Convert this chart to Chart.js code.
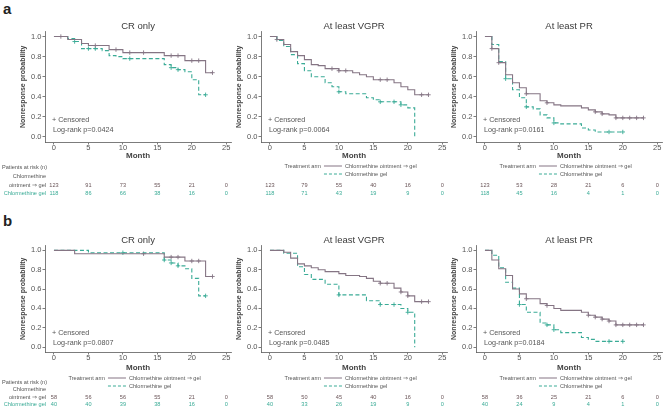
<!DOCTYPE html>
<html>
<head>
<meta charset="utf-8">
<script src="https://cdn.jsdelivr.net/npm/chart.js@4.4.1/dist/chart.umd.min.js"></script>
<style>
body{margin:0;background:#fff;width:668px;height:411px;overflow:hidden;position:relative;}
canvas{position:absolute;}
.tag{position:absolute;font:bold 15px "Liberation Sans",Arial,sans-serif;color:#222;}
</style>
</head>
<body>
<div class="tag" style="left:3px;top:0px">a</div>
<div class="tag" style="left:3px;top:212px">b</div>
<canvas id="aCR"></canvas><canvas id="aVGPR"></canvas><canvas id="aPR"></canvas>
<canvas id="bCR"></canvas><canvas id="bVGPR"></canvas><canvas id="bPR"></canvas>
<script>
// tick labels
const monthTicks = [0, 5, 10, 15, 20, 25];
const probTicks = [0, 0.2, 0.4, 0.6, 0.8, 1.0];

// ---- panel a (all patients) ----
const aCR_ointT = [0, 2, 4, 5, 8, 10, 16, 19, 22, 23];
const aCR_ointS = [1, 0.97, 0.93, 0.91, 0.87, 0.84, 0.81, 0.76, 0.64, 0.64];
const aCR_ointC = [1, 6, 9, 11, 13, 17, 18, 20, 21, 23];
const aCR_gelT = [0, 2, 3, 4, 7, 8, 9, 10, 16, 17, 18, 19, 20, 21, 22];
const aCR_gelS = [1, 0.98, 0.95, 0.88, 0.86, 0.81, 0.80, 0.78, 0.72, 0.69, 0.67, 0.65, 0.57, 0.42, 0.42];
const aCR_gelC = [3, 5, 6, 11, 17, 18, 22];

const aVGPR_ointT = [0, 1, 2, 3, 4, 5, 6, 7, 8, 10, 12, 13, 14, 15, 18, 19, 20, 21, 23];
const aVGPR_ointS = [1, 0.97, 0.92, 0.85, 0.81, 0.77, 0.72, 0.71, 0.68, 0.66, 0.64, 0.62, 0.60, 0.57, 0.54, 0.50, 0.47, 0.42, 0.42];
const aVGPR_ointC = [1, 9, 10, 11, 16, 17, 22, 23];
const aVGPR_gelT = [0, 1, 2, 3, 4, 5, 6, 8, 9, 10, 11, 14, 15, 16, 19, 20, 21];
const aVGPR_gelS = [1, 0.96, 0.90, 0.82, 0.73, 0.66, 0.60, 0.54, 0.50, 0.45, 0.43, 0.39, 0.37, 0.35, 0.32, 0.29, 0];
const aVGPR_gelC = [10, 16, 18, 19];

const aPR_ointT = [0, 1, 2, 3, 4, 5, 6, 8, 9, 10, 11, 14, 15, 16, 17, 18, 19, 23];
const aPR_ointS = [1, 0.88, 0.74, 0.62, 0.54, 0.49, 0.43, 0.36, 0.34, 0.32, 0.31, 0.29, 0.27, 0.25, 0.23, 0.22, 0.19, 0.19];
const aPR_ointC = [1, 2, 6, 9, 16, 17, 19, 20, 21, 22, 23];
const aPR_gelT = [0, 1, 2, 3, 4, 5, 6, 7, 8, 9, 10, 11, 14, 15, 16, 20];
const aPR_gelS = [1, 0.92, 0.75, 0.58, 0.47, 0.39, 0.30, 0.28, 0.22, 0.19, 0.14, 0.13, 0.09, 0.07, 0.05, 0.05];
const aPR_gelC = [3, 6, 10, 18, 20];

// ---- panel b ----
const bCR_ointT = [0, 3, 16, 19, 22, 23];
const bCR_ointS = [1, 0.965, 0.93, 0.89, 0.73, 0.73];
const bCR_ointC = [13, 17, 18, 20, 21, 23];
const bCR_gelT = [0, 5, 16, 17, 18, 19, 20, 21, 22];
const bCR_gelS = [1, 0.975, 0.90, 0.87, 0.84, 0.81, 0.71, 0.53, 0.53];
const bCR_gelC = [10, 16, 17, 18, 22];

const bVGPR_ointT = [0, 2, 3, 4, 5, 6, 7, 8, 10, 11, 13, 14, 15, 16, 18, 19, 20, 21, 23];
const bVGPR_ointS = [1, 0.98, 0.92, 0.86, 0.84, 0.82, 0.80, 0.78, 0.76, 0.74, 0.73, 0.71, 0.68, 0.66, 0.61, 0.57, 0.53, 0.47, 0.47];
const bVGPR_ointC = [16, 17, 19, 20, 22, 23];
const bVGPR_gelT = [0, 2, 4, 5, 6, 8, 10, 14, 16, 19, 20, 21];
const bVGPR_gelS = [1, 0.97, 0.83, 0.75, 0.70, 0.65, 0.54, 0.48, 0.44, 0.40, 0.36, 0];
const bVGPR_gelC = [10, 16, 18, 20];

const bPR_ointT = [0, 1, 2, 3, 4, 5, 6, 8, 9, 10, 11, 14, 15, 16, 17, 18, 19, 23];
const bPR_ointS = [1, 0.90, 0.81, 0.74, 0.60, 0.55, 0.50, 0.45, 0.43, 0.40, 0.38, 0.36, 0.33, 0.31, 0.29, 0.27, 0.23, 0.23];
const bPR_ointC = [6, 9, 15, 16, 17, 18, 19, 20, 21, 22, 23];
const bPR_gelT = [0, 1, 2, 3, 4, 5, 6, 8, 9, 10, 11, 14, 15, 16, 20];
const bPR_gelS = [1, 0.95, 0.82, 0.67, 0.61, 0.44, 0.36, 0.25, 0.23, 0.18, 0.15, 0.10, 0.08, 0.06, 0.06];
const bPR_gelC = [5, 9, 10, 18, 20];

// patients at risk at 0,5,...,25
const aCR_riskOint = [123, 91, 73, 55, 21, 0];
const aCR_riskGel = [118, 86, 66, 38, 16, 0];
const aVGPR_riskOint = [123, 79, 55, 40, 16, 0];
const aVGPR_riskGel = [118, 71, 43, 19, 9, 0];
const aPR_riskOint = [123, 53, 28, 21, 6, 0];
const aPR_riskGel = [118, 45, 16, 4, 1, 0];
const bCR_riskOint = [58, 56, 56, 55, 21, 0];
const bCR_riskGel = [40, 40, 39, 38, 16, 0];
const bVGPR_riskOint = [58, 50, 45, 40, 16, 0];
const bVGPR_riskGel = [40, 33, 26, 19, 9, 0];
const bPR_riskOint = [58, 36, 25, 21, 6, 0];
const bPR_riskGel = [40, 24, 9, 4, 1, 0];

const pValues = {aCR: '0.0424', aVGPR: '0.0064', aPR: '0.0161', bCR: '0.0807', bVGPR: '0.0485', bPR: '0.0184'};

const ointColor = '#857584';
const gelColor = '#3aab96';
const axisColor = '#5a5a5a';
const textColor = '#555';
const FONT = '"Liberation Sans", Arial, sans-serif';
const SMALL = 5.6; // risk table / legend text

Chart.defaults.font.family = FONT;
Chart.defaults.color = textColor;

function survAt(times, surv, t){
	var v = surv[0];
	for(var i=0; i<times.length; i++){
		if(times[i] <= t) v = surv[i];
	}
	return v;
}
function stepData(times, surv){
	return times.map(function(t, i){ return {x: t, y: surv[i]}; });
}
function censorData(times, surv, cens){
	return cens.map(function(t){ return {x: t, y: survAt(times, surv, t)}; });
}

// annotation, legend and risk table under each panel
const kmExtras = {
	id: 'kmExtras',
	afterDraw(chart, args, o){
		const ctx = chart.ctx, xs = chart.scales.x, ca = chart.chartArea;
		const x0 = xs.getPixelForValue(0);
		ctx.save();
		ctx.textBaseline = 'middle';
		ctx.font = '7.2px ' + FONT;
		ctx.fillStyle = textColor;
		ctx.textAlign = 'left';
		ctx.fillText('+ Censored', x0 - 2, ca.bottom + o.censY);
		ctx.fillText('Log-rank p=' + o.p, x0 - 1, ca.bottom + o.pY);

		ctx.font = SMALL + 'px ' + FONT;
		if(o.legend){
			const ly1 = ca.bottom + o.legY, ly2 = ly1 + 8;
			ctx.textAlign = 'right';
			ctx.fillText('Treatment arm', x0 + 51, ly1);
			ctx.textAlign = 'left';
			ctx.fillText('Chlormethine ointment \u21d2 gel', x0 + 75, ly1);
			ctx.fillText('Chlormethine gel', x0 + 75, ly2);
			ctx.lineWidth = 1;
			ctx.strokeStyle = ointColor;
			ctx.beginPath(); ctx.moveTo(x0 + 54, ly1); ctx.lineTo(x0 + 72, ly1); ctx.stroke();
			ctx.strokeStyle = gelColor;
			ctx.setLineDash([3, 2]);
			ctx.beginPath(); ctx.moveTo(x0 + 54, ly2); ctx.lineTo(x0 + 72, ly2); ctx.stroke();
			ctx.setLineDash([]);
		}
		const r1 = ca.bottom + o.riskY, r2 = r1 + o.riskGap;
		ctx.textAlign = 'center';
		monthTicks.forEach(function(m, i){
			const px = xs.getPixelForValue(m);
			ctx.fillStyle = '#6a5558';
			ctx.fillText(String(o.riskOint[i]), px, r1);
			ctx.fillStyle = gelColor;
			ctx.fillText(String(o.riskGel[i]), px, r2);
		});
		if(o.rowLabels){
			const xr = ca.left + 1;
			ctx.fillStyle = textColor;
			ctx.textAlign = 'left';
			ctx.fillText('Patients at risk (n)', 1, r1 - o.headGap);
			ctx.textAlign = 'right';
			ctx.fillText('Chlormethine', xr, r1 - o.subGap);
			ctx.fillText('ointment \u21d2 gel', xr, r1);
			ctx.fillStyle = gelColor;
			ctx.fillText('Chlormethine gel', xr, r2);
		}
		ctx.restore();
	}
};

function makeKm(id, title, rowInfo, col, curves, extras){
	const colLeft = [1, 217, 432];
	const cv = document.getElementById(id);
	cv.width = 235;
	cv.height = rowInfo.height;
	cv.style.left = colLeft[col] + 'px';
	cv.style.top = rowInfo.top + 'px';
	new Chart(cv, {
		type: 'line',
		data: {
			datasets: [
				{data: stepData(curves.ointT, curves.ointS), stepped: true, borderColor: ointColor, borderWidth: 1.1, pointRadius: 0, fill: false},
				{data: stepData(curves.gelT, curves.gelS), stepped: true, borderColor: gelColor, borderWidth: 1.1, borderDash: [4, 2.5], pointRadius: 0, fill: false},
				{data: censorData(curves.ointT, curves.ointS, curves.ointC), showLine: false, pointStyle: 'cross', pointRadius: 2.2, borderColor: ointColor, borderWidth: 0.9},
				{data: censorData(curves.gelT, curves.gelS, curves.gelC), showLine: false, pointStyle: 'cross', pointRadius: 2.2, borderColor: gelColor, borderWidth: 0.9}
			]
		},
		options: {
			responsive: false,
			animation: false,
			devicePixelRatio: 1,
			layout: {padding: {left: 0, right: 1, top: 0, bottom: 0}},
			plugins: {
				legend: {display: false},
				tooltip: {enabled: false},
				title: {display: true, text: title, fullSize: false, color: '#3a3a3a', font: {size: 9.5, weight: 'normal', lineHeight: 1}, padding: 0},
				kmExtras: extras
			},
			scales: {
				x: {
					type: 'linear', min: -1.3, max: 25.7,
					afterBuildTicks: function(s){ s.ticks = monthTicks.map(function(v){ return {value: v}; }); },
					afterFit: function(s){ s.height = rowInfo.xh; },
					grid: {display: true, drawOnChartArea: false, drawTicks: true, tickLength: 2.5, color: axisColor, lineWidth: 0.8},
					border: {display: true, color: axisColor, width: 0.8},
					ticks: {color: textColor, font: {size: 7.5}, padding: -1, maxRotation: 0, autoSkip: false},
					title: {display: true, text: 'Month', color: '#444', font: {size: 8, weight: 'bold'}, padding: {top: 0, bottom: rowInfo.monthPad}}
				},
				y: {
					type: 'linear', min: -0.05, max: 1.05,
					afterBuildTicks: function(s){ s.ticks = probTicks.map(function(v){ return {value: v}; }); },
					afterFit: function(s){ s.width = 44; },
					grid: {display: true, drawOnChartArea: false, drawTicks: true, tickLength: 2.5, color: axisColor, lineWidth: 0.8},
					border: {display: true, color: axisColor, width: 0.8},
					ticks: {color: textColor, font: {size: 7.5}, padding: 1, callback: function(v){ return v.toFixed(1); }},
					title: {display: true, text: 'Nonresponse probability', color: '#444', font: {size: 7, weight: 'bold'}, padding: {top: 17.8, bottom: 0}}
				}
			}
		},
		plugins: [kmExtras]
	});
}

const rowA = {top: 21.5, height: 178.5, xh: 58, monthPad: 39.2};
const rowB = {top: 235.5, height: 173.5, xh: 57, monthPad: 36.2};
const exA = {censY: -22, pY: -12, legY: 24, riskY: 43, riskGap: 8, headGap: 18, subGap: 9};
const exB = {censY: -19, pY: -9, legY: 26, riskY: 45, riskGap: 7.5, headGap: 15, subGap: 8};

makeKm('aCR', 'CR only', rowA, 0,
	{ointT: aCR_ointT, ointS: aCR_ointS, ointC: aCR_ointC, gelT: aCR_gelT, gelS: aCR_gelS, gelC: aCR_gelC},
	Object.assign({}, exA, {p: pValues.aCR, legend: false, rowLabels: true, riskOint: aCR_riskOint, riskGel: aCR_riskGel}));
makeKm('aVGPR', 'At least VGPR', rowA, 1,
	{ointT: aVGPR_ointT, ointS: aVGPR_ointS, ointC: aVGPR_ointC, gelT: aVGPR_gelT, gelS: aVGPR_gelS, gelC: aVGPR_gelC},
	Object.assign({}, exA, {p: pValues.aVGPR, legend: true, rowLabels: false, riskOint: aVGPR_riskOint, riskGel: aVGPR_riskGel}));
makeKm('aPR', 'At least PR', rowA, 2,
	{ointT: aPR_ointT, ointS: aPR_ointS, ointC: aPR_ointC, gelT: aPR_gelT, gelS: aPR_gelS, gelC: aPR_gelC},
	Object.assign({}, exA, {p: pValues.aPR, legend: true, rowLabels: false, riskOint: aPR_riskOint, riskGel: aPR_riskGel}));
makeKm('bCR', 'CR only', rowB, 0,
	{ointT: bCR_ointT, ointS: bCR_ointS, ointC: bCR_ointC, gelT: bCR_gelT, gelS: bCR_gelS, gelC: bCR_gelC},
	Object.assign({}, exB, {p: pValues.bCR, legend: true, rowLabels: true, riskOint: bCR_riskOint, riskGel: bCR_riskGel}));
makeKm('bVGPR', 'At least VGPR', rowB, 1,
	{ointT: bVGPR_ointT, ointS: bVGPR_ointS, ointC: bVGPR_ointC, gelT: bVGPR_gelT, gelS: bVGPR_gelS, gelC: bVGPR_gelC},
	Object.assign({}, exB, {p: pValues.bVGPR, legend: true, rowLabels: false, riskOint: bVGPR_riskOint, riskGel: bVGPR_riskGel}));
makeKm('bPR', 'At least PR', rowB, 2,
	{ointT: bPR_ointT, ointS: bPR_ointS, ointC: bPR_ointC, gelT: bPR_gelT, gelS: bPR_gelS, gelC: bPR_gelC},
	Object.assign({}, exB, {p: pValues.bPR, legend: true, rowLabels: false, riskOint: bPR_riskOint, riskGel: bPR_riskGel}));
</script>
</body>
</html>
